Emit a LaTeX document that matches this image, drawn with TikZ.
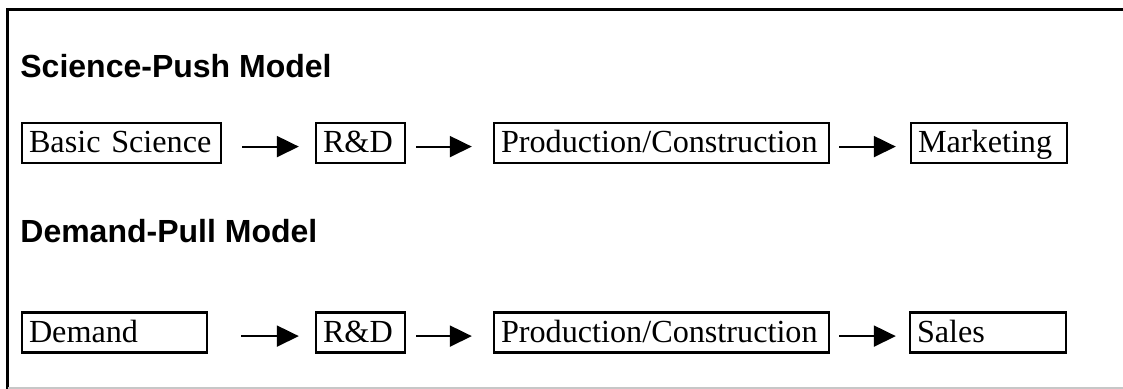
\documentclass[tikz,border=0pt]{standalone}
\usepackage{fontspec}
\setmainfont{Liberation Serif}
\newfontfamily\headfont{Liberation Sans}
\usetikzlibrary{arrows.meta}

\tikzset{
  heading/.style={anchor=base west, inner sep=0pt, font=\headfont\bfseries\fontsize{16pt}{18pt}\selectfont},
  stagebox/.style={draw, line width=1.2pt, minimum height=20pt, inner xsep=3.5pt,
    text height=10pt, text depth=0pt, font=\fontsize{16.1pt}{18pt}\selectfont,
    text width=#1-7pt, align=left},
  flow/.style={line width=1pt, -{Triangle[length=11pt,width=10.5pt]}},
  frame/.style={line width=1.5pt},
}

\begin{document}
\begin{tikzpicture}[x=0.5pt, y=-0.5pt]
  \useasboundingbox (0,0) rectangle (1123,389);

  % outer frame: strong top and left edges, faint bottom edge
  \draw[frame] (1123,10) -- (7.5,10) -- (7.5,389);
  \draw[black!22, line width=1pt] (7.5,388) -- (1123,388);

  % science-push chain
  \node[heading] (h1) at (20,78) {Science-Push Model};
  \node[stagebox=99.5pt]  (bs)  at (121.5,143) {\mbox{Basic Science}};
  \node[stagebox=44.5pt]  (rd1) at (360.5,143) {R\&D};
  \node[stagebox=167.5pt] (pc1) at (661.5,143) {\mbox{Production/Construction}};
  \node[stagebox=78pt]    (mk)  at (989,143)   {\mbox{Marketing}};

  \draw[flow, shorten <=10pt, shorten >=8pt]
    ([yshift=-1.8pt]bs.east) -- ([yshift=-1.8pt]rd1.west);
  \draw[flow, shorten <=5pt, shorten >=10.5pt]
    ([yshift=-1.8pt]rd1.east) -- ([yshift=-1.8pt]pc1.west);
  \draw[flow, shorten <=4.5pt, shorten >=7pt]
    ([yshift=-1.8pt]pc1.east) -- ([yshift=-1.8pt]mk.west);

  % demand-pull chain
  \node[heading] (h2) at (20,243) {Demand-Pull Model};
  \node[stagebox=92.5pt]  (dm)  at (114.5,332.5) {Demand};
  \node[stagebox=44.5pt]  (rd2) at (360.5,332.5) {R\&D};
  \node[stagebox=167.5pt] (pc2) at (661.5,332.5) {\mbox{Production/Construction}};
  \node[stagebox=78pt]    (sl)  at (988,332.5)   {Sales};

  \draw[flow, shorten <=16.5pt, shorten >=8pt]
    ([yshift=-1.8pt]dm.east) -- ([yshift=-1.8pt]rd2.west);
  \draw[flow, shorten <=5pt, shorten >=10.5pt]
    ([yshift=-1.8pt]rd2.east) -- ([yshift=-1.8pt]pc2.west);
  \draw[flow, shorten <=4.5pt, shorten >=6.5pt]
    ([yshift=-1.8pt]pc2.east) -- ([yshift=-1.8pt]sl.west);
\end{tikzpicture}
\end{document}
